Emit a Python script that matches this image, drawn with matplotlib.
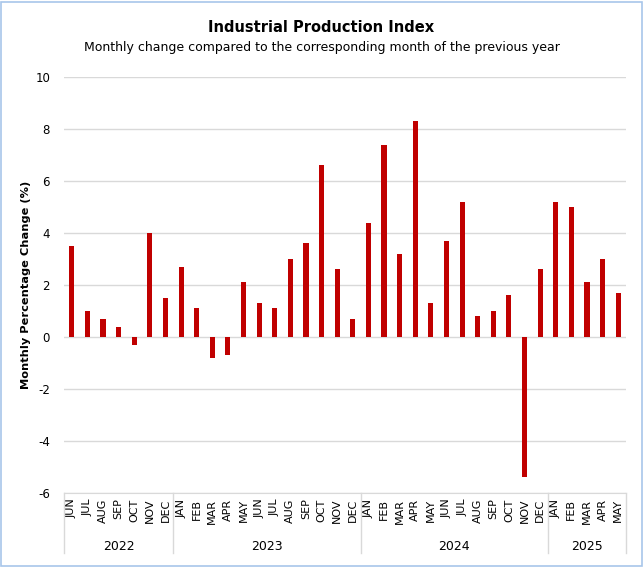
import matplotlib
matplotlib.use("Agg")
import matplotlib.pyplot as plt
import numpy as np
from matplotlib.patches import Rectangle

# donnees
mois = ["JUN", "JUL", "AUG", "SEP", "OCT", "NOV", "DEC",
        "JAN", "FEB", "MAR", "APR", "MAY", "JUN", "JUL", "AUG", "SEP", "OCT", "NOV", "DEC",
        "JAN", "FEB", "MAR", "APR", "MAY", "JUN", "JUL", "AUG", "SEP", "OCT", "NOV", "DEC",
        "JAN", "FEB", "MAR", "APR", "MAY"]
annees = ["2022", "2023", "2024", "2025"]
mois_par_annee = [7, 12, 12, 5]
valeurs = [3.5, 1.0, 0.7, 0.4, -0.3, 4.0, 1.5,
           2.7, 1.1, -0.8, -0.7, 2.1, 1.3, 1.1, 3.0, 3.6, 6.6, 2.6, 0.7,
           4.4, 7.4, 3.2, 8.3, 1.3, 3.7, 5.2, 0.8, 1.0, 1.6, -5.4, 2.6,
           5.2, 5.0, 2.1, 3.0, 1.7]

plt.rcParams['font.family'] = ['DejaVu Sans']
plt.rcParams['axes.unicode_minus'] = False

fig = plt.figure(figsize=(6.43, 5.67), dpi=100)
ax = fig.add_axes([64/643, 1 - 493/567, 562/643, 416/567])

x = np.arange(len(valeurs))
ax.bar(x, valeurs, width=0.33, color="#c00000", zorder=3)

ax.set_xlim(-0.5, len(valeurs) - 0.5)
ax.set_ylim(-6, 10)
ax.set_yticks(range(-6, 11, 2))
ax.tick_params(axis="y", length=0, labelsize=8.5, pad=10)
ax.set_xticks(x)
ax.set_xticklabels(mois, rotation=90, fontsize=8)
ax.tick_params(axis="x", length=0, pad=4)

# grille
ax.grid(axis="y", color="#d9d9d9", linewidth=1, zorder=0)
for s in ["left", "right", "top"]:
    ax.spines[s].set_visible(False)
ax.spines["bottom"].set_color("#d9d9d9")

ax.set_ylabel("Monthly Percentage Change (%)", fontsize=8.2, fontweight="bold")
ax.yaxis.set_label_coords((31 - 64) / 562, 0.5)

# separateurs et annees
trans = ax.get_xaxis_transform()
debut = -0.5
for annee, n in zip(annees, mois_par_annee):
    ax.plot([debut, debut], [0, -60/416], color="#d9d9d9", lw=1, transform=trans, clip_on=False)
    ax.text(debut + n / 2, -53/416, annee, ha="center", va="center", fontsize=9, transform=trans)
    debut = debut + n
ax.plot([debut, debut], [0, -60/416], color="#d9d9d9", lw=1, transform=trans, clip_on=False)

fig.text(0.5, 1 - 27/567, "Industrial Production Index", ha="center", va="center",
         fontsize=10.5, fontweight="bold")
fig.text(0.5, 1 - 48/567, "Monthly change compared to the corresponding month of the previous year",
         ha="center", va="center", fontsize=9)

# bordure
fig.patches.append(Rectangle((0.5/643, 1.5/567), 641/643, 564/567, transform=fig.transFigure,
                             fill=False, edgecolor="#a8c6ea", linewidth=1.2))

fig.savefig("out.png", dpi=100)
